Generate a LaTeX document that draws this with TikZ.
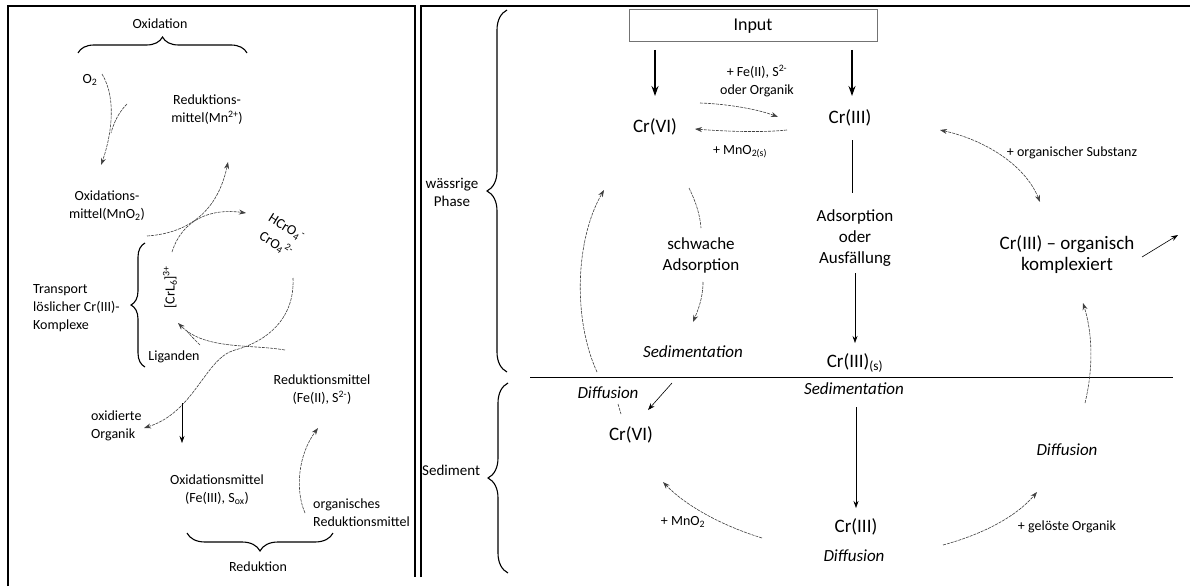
\documentclass[tikz,border=0pt]{standalone}
\usepackage{fontspec}
\setmainfont{Carlito}
\usetikzlibrary{arrows.meta,decorations.pathreplacing}
\begin{document}
\begin{tikzpicture}[x=1pt,y=-1pt,
  lbl/.style={font=\fontsize{14}{18}\selectfont, align=center, inner sep=0pt},
  midl/.style={font=\fontsize{17}{21}\selectfont, align=center, inner sep=0pt},
  itl/.style={font=\fontsize{17}{21}\selectfont\itshape, align=center, inner sep=0pt},
  bigl/.style={font=\fontsize{19}{21}\selectfont, align=center, inner sep=0pt},
  sidel/.style={font=\fontsize{15}{18}\selectfont, align=center, inner sep=0pt},
  flow/.style={line width=0.6pt, black!75, dash pattern=on 3pt off 1pt, -{Stealth[length=7pt,width=5pt]}},
  flowline/.style={line width=0.6pt, black!75, dash pattern=on 3pt off 1pt},
  solidarrow/.style={line width=0.6pt, -{Stealth[length=7pt,width=5pt]}},
  mainarrow/.style={line width=1.5pt, -{Stealth[length=10pt,width=7pt]}},
  panel/.style={line width=2pt},
  bracestyle/.style={line width=1.1pt, decorate, decoration={brace, amplitude=#1}},
]
\useasboundingbox (0,0) rectangle (1190,586);
\fill[white] (0,0) rectangle (1190,586);

% panels
\draw[panel] (8,586) -- (8,6) -- (415,6) -- (415,577);
\draw[panel] (421,577) -- (421,6) -- (1190,6);

% ---------------- left panel ----------------
\node[lbl] (oxid) at (160,24) {Oxidation};
\draw[bracestyle=16pt] (78,53) -- (247,53);
\node[lbl] (o2) at (90,80) {O\textsubscript{2}};
\node[lbl] (redmn) at (207,110) {Reduktions-\\mittel(Mn\textsuperscript{2+})};
\node[lbl] (oxmn) at (107,206) {Oxidations-\\mittel(MnO\textsubscript{2})};
\node[lbl, rotate=-32] (hcro) at (286,228) {HCrO\textsubscript{4}\textsuperscript{-}};
\node[lbl, rotate=-32] (cro) at (276,244) {CrO\textsubscript{4}\textsuperscript{2-}};
\node[lbl, rotate=90] (crl) at (170,287) {[CrL\textsubscript{6}]\textsuperscript{3+}};
\node[lbl, align=left, anchor=west] (transp) at (33,308) {Transport\\löslicher Cr(III)-\\Komplexe};
\draw[bracestyle=14pt] (145,367) -- (145,243);
\node[lbl] (lig) at (174,357) {Liganden};
\node[lbl] (redfe) at (322,390) {Reduktionsmittel\\(Fe(II), S\textsuperscript{2-})};
\node[lbl, align=left, anchor=west] (oxorg) at (91,426) {oxidierte\\Organik};
\node[lbl] (oxfe) at (217,490) {Oxidationsmittel\\(Fe(III), S\textsubscript{ox})};
\node[lbl, align=left, anchor=west] (orgred) at (313,513) {organisches\\Reduktionsmittel};
\draw[bracestyle=18pt] (333,533) -- (187,533);
\node[lbl] (red) at (258,567) {Reduktion};

% left panel curves
\draw[flow] (102,74) .. controls (118,100) and (110,140) .. (101,165);
\draw[flowline] (127,104) .. controls (119,112) and (114,122) .. (111,133);
\draw[flow] (147,236) .. controls (190,233) and (218,210) .. (228,162);
\draw[flow] (172,252) .. controls (182,220) and (210,208) .. (246,213);
\draw[flow] (293,278) .. controls (295,320) and (265,342) .. (235,350)
            .. controls (205,358) and (195,412) .. (144,428);
\draw[flow] (285,350) .. controls (250,344) and (205,350) .. (178,323);
\draw[flowline] (200,345) .. controls (195,340) and (190,335) .. (186,330);
\draw[solidarrow] (182,403) -- (182,443);
\draw[flow] (305,513) .. controls (295,490) and (298,455) .. (318,428);

% ---------------- right panel ----------------
\node[draw=black!55, line width=1pt, minimum width=248pt, minimum height=32pt, inner sep=0pt,
      font=\fontsize{18}{20}\selectfont] (input) at (753,26) {Input};
\node[bigl] (crvi) at (655,127) {Cr(VI)};
\node[bigl] (criii) at (850,118) {Cr(III)};
\node[lbl] (fe) at (757,81) {+ Fe(II), S\textsuperscript{2-}\\oder Organik};
\node[lbl] (mno) at (740,152) {+ MnO\textsubscript{2(s)}};
\node[lbl] (orgsub) at (1072,153) {+ organischer Substanz};
\node[midl] (ads) at (855,238) {Adsorption\\oder\\Ausfällung};
\node[midl] (schw) at (701,255) {schwache\\Adsorption};
\node[itl] (sed1) at (693,352) {Sedimentation};
\node[bigl] (crs) at (855,363) {Cr(III)\textsubscript{(s)}};
\node[itl] (sed2) at (854,389) {Sedimentation};
\node[bigl] (crorg) at (1067,255) {Cr(III) – organisch\\komplexiert};
\node[itl] (dif1) at (608,393) {Diffusion};
\node[bigl] (crvis) at (631,435) {Cr(VI)};
\node[lbl] (mno2) at (683,522) {+ MnO\textsubscript{2}};
\node[bigl] (criiis) at (856,527) {Cr(III)};
\node[itl] (dif2) at (854,556) {Diffusion};
\node[lbl] (gel) at (1067,527) {+ gelöste Organik};
\node[itl] (dif3) at (1067,450) {Diffusion};
\node[sidel] (wp) at (452,192) {wässrige\\Phase};
\node[sidel, anchor=west] (sedi) at (422,470) {Sediment};
\draw[bracestyle=20pt] (507,372) -- (507,10);
\draw[bracestyle=20pt] (508,573) -- (508,383);

% right panel connectors
\draw[mainarrow] (655,50) -- (655,96);
\draw[mainarrow] (852,50) -- (852,96);
\draw[flow] (700,103) .. controls (730,104) and (760,110) .. (778,117);
\draw[flow] (787,130) .. controls (760,133) and (720,131) .. (695,129);
\draw[flowline, {Stealth[length=7pt,width=5pt]}-{Stealth[length=7pt,width=5pt]}]
   (940,130) .. controls (985,140) and (1025,165) .. (1040,202);
\draw[line width=0.6pt] (852,140) -- (852,193);
\draw[solidarrow] (855,273) -- (855,343);
\draw[line width=1pt] (530,377) -- (1173,377);
\draw[flowline] (689,188) .. controls (696,202) and (700,215) .. (701,228);
\draw[flow] (703,282) .. controls (703,298) and (698,310) .. (693,322);
\draw[flow] (597,372) .. controls (573,320) and (575,240) .. (604,190);
\draw[solidarrow] (672,383) -- (648,410);
\draw[flowline] (618,404) -- (621,414);
\draw[flow] (762,538) .. controls (720,525) and (685,505) .. (663,482);
\draw[solidarrow] (856,407) -- (856,508);
\draw[flow] (943,545) .. controls (980,535) and (1015,518) .. (1037,492);
\draw[flow] (1085,403) .. controls (1093,370) and (1093,335) .. (1083,303);
\draw[solidarrow] (1142,257) -- (1178,235);
\end{tikzpicture}
\end{document}
